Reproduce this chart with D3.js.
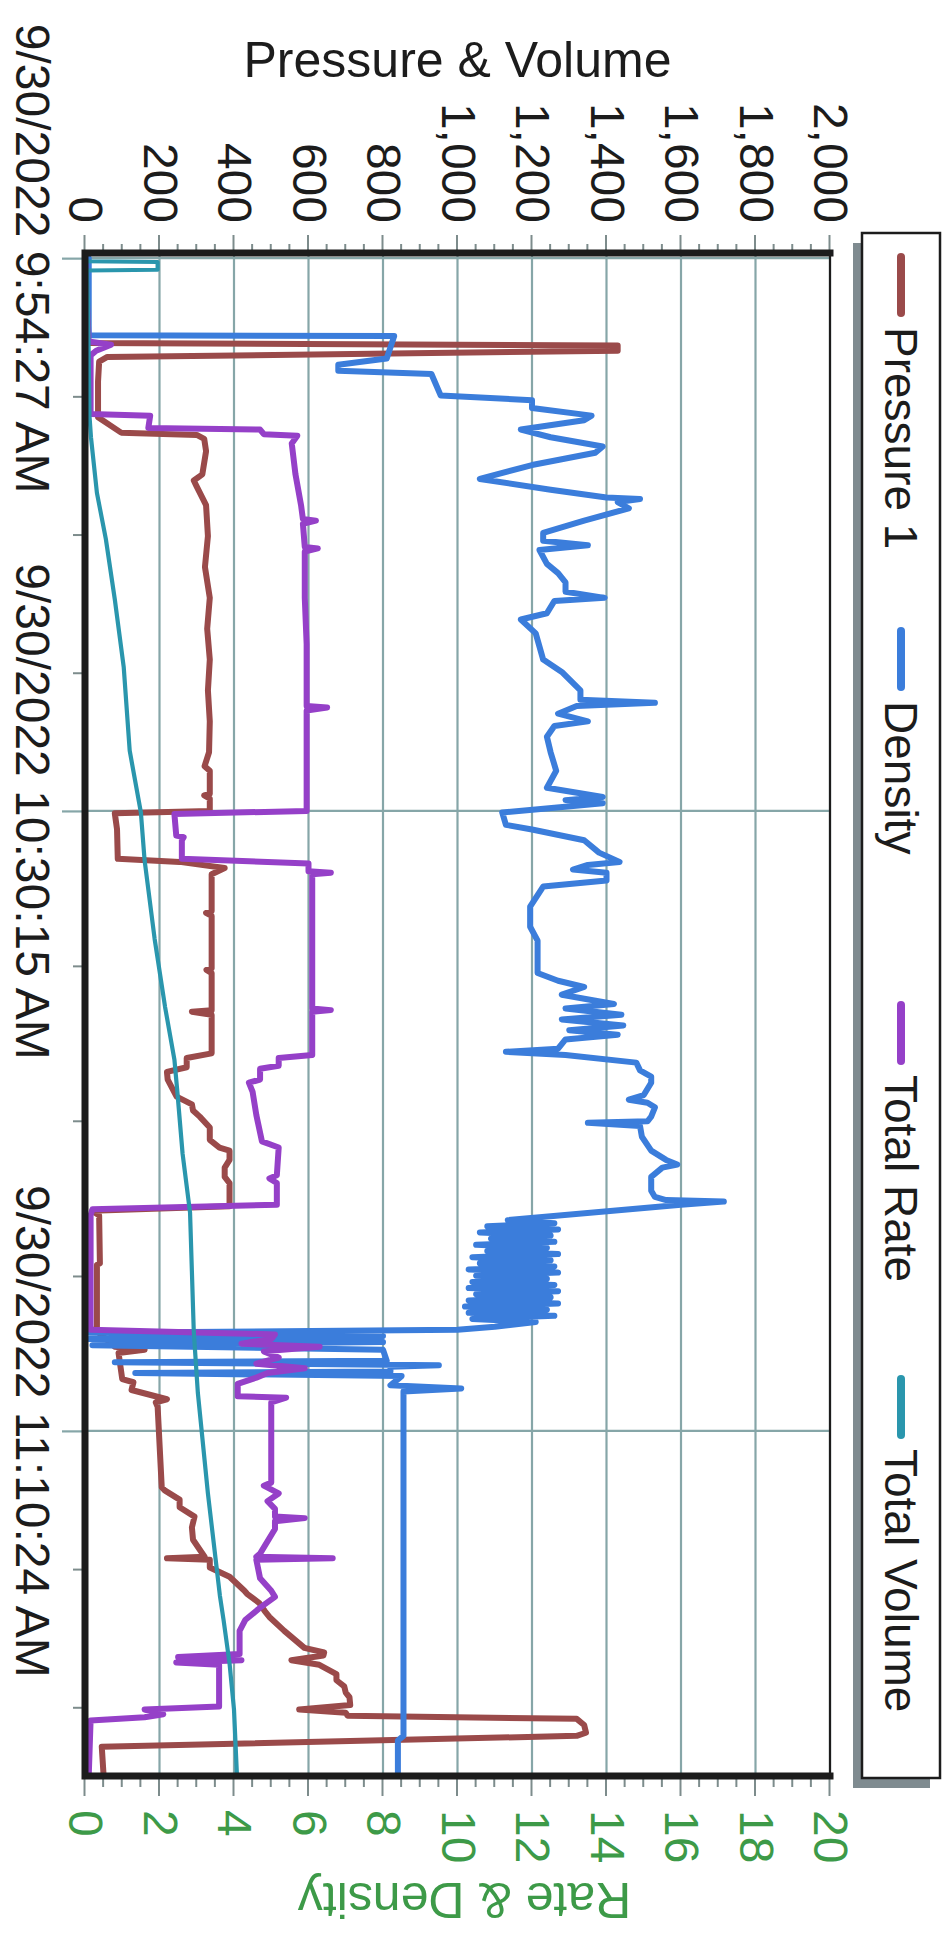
<!DOCTYPE html>
<html>
<head>
<meta charset="utf-8">
<script src="https://cdn.jsdelivr.net/npm/d3@7"></script>
<style>
  body { margin: 0; background: #fff; }
  svg { display: block; }
</style>
</head>
<body>
<svg id="chart"></svg>
<script>
// time is minutes after the first sample (9:54:27 AM)
const startClock = "09:54:27"
const majorClock = ["09:54:27", "10:30:15", "11:10:24"]
const minorClock = ["10:03:24", "10:12:21", "10:21:18", "10:40:17", "10:50:19", "11:00:22", "11:19:21", "11:28:18"]
const timeLabels = ["9/30/2022 9:54:27 AM", "9/30/2022 10:30:15 AM", "9/30/2022 11:10:24 AM"]
const leftTicks = [0, 200, 400, 600, 800, 1000, 1200, 1400, 1600, 1800, 2000]
const rightTicks = [0, 2, 4, 6, 8, 10, 12, 14, 16, 18, 20]
const legendNames = ["Pressure 1", "Density", "Total Rate", "Total Volume"]

// psi
const pressure = [
  [0, 5], [5.5, 5], [5.65, 1430], [6.0, 1430], [6.4, 60], [6.7, 38], [8.0, 35], [10.3, 35],
  [11.3, 97], [11.45, 300], [11.7, 320], [12.5, 325], [14.0, 315], [14.4, 292], [14.8, 300],
  [16.0, 325], [18.0, 330], [20.0, 322], [22.0, 335], [24.0, 328], [26.0, 335], [28.0, 330],
  [30.0, 335], [32.0, 333], [32.9, 321], [33.2, 335], [34.7, 335], [34.8, 320], [35.0, 335],
  [35.8, 335], [35.95, 80], [37.0, 86], [38.9, 88], [39.1, 254], [39.5, 375], [39.9, 340],
  [42.3, 340], [42.4, 325], [42.6, 340], [46.0, 340], [46.1, 326], [46.3, 340], [48.7, 340],
  [48.8, 287], [49.0, 340], [51.5, 340], [51.8, 273], [52.4, 273], [52.7, 220], [53.2, 222],
  [54.3, 246], [54.8, 287], [55.2, 290], [55.6, 308], [56.3, 335], [57.1, 335], [57.6, 361],
  [57.8, 388], [58.4, 388], [58.9, 375], [59.5, 375], [59.9, 388], [61.4, 388], [61.7, 20],
  [62.0, 38], [65.1, 40], [65.2, 32], [69.2, 32], [69.4, 28], [70.5, 80], [70.7, 160],
  [70.9, 90], [72.6, 100], [72.8, 130], [73.3, 125], [73.9, 220], [74.1, 190], [74.4, 195],
  [79.6, 206], [79.8, 214], [80.4, 254], [80.9, 254], [81.5, 294], [82.2, 287], [83.0, 290],
  [84.1, 321], [84.2, 220], [84.3, 335], [84.8, 335], [85.4, 388], [86.3, 428], [86.5, 435],
  [87.1, 468], [87.6, 482], [88.0, 495], [88.9, 535], [90.0, 589], [90.3, 642], [90.5, 640],
  [90.8, 554], [91.1, 629], [91.7, 675], [92.1, 675], [92.5, 696], [92.9, 700], [93.2, 710],
  [93.7, 712], [94.0, 575], [94.2, 700], [94.4, 705], [94.6, 1320], [95.0, 1340], [95.5, 1345],
  [95.7, 1320], [96.4, 45], [98.3, 50]
]

// ppg
const density = [
  [0, 0.1], [5.0, 0.1], [5.05, 8.3], [6.5, 8.1], [6.9, 6.8], [7.3, 6.8], [7.5, 9.3], [8.9, 9.55],
  [9.2, 12.0], [9.7, 12.0], [10.2, 13.6], [10.5, 13.4], [11.1, 11.7], [11.6, 12.5], [12.2, 13.9],
  [12.6, 13.7], [13.4, 12.0], [14.3, 10.6], [15.0, 12.5], [15.5, 14.0], [15.6, 14.9], [15.8, 14.3],
  [16.2, 14.6], [17.0, 13.4], [17.8, 12.3], [18.3, 12.3], [18.6, 13.5], [18.9, 12.2], [19.8, 12.4],
  [20.4, 12.7], [21.0, 12.9], [21.6, 12.9], [22.0, 13.95], [22.2, 12.6], [23.0, 12.4], [23.4, 11.7],
  [24.3, 12.1], [26.0, 12.3], [26.8, 12.8], [28.0, 13.3], [28.6, 13.3], [28.8, 15.3], [29.0, 13.2],
  [29.5, 12.7], [30.0, 13.5], [30.3, 12.6], [31.0, 12.4], [32.0, 12.5], [33.2, 12.65], [34.3, 12.4],
  [34.9, 13.9], [35.1, 12.9], [35.3, 13.9], [35.6, 12.6], [35.9, 11.2], [36.7, 11.3], [37.0, 12.0],
  [37.7, 13.4], [38.5, 13.8], [39.1, 14.35], [39.3, 13.5], [39.6, 13.1], [39.8, 14.0], [40.3, 14.0],
  [40.7, 12.3], [42.0, 11.95], [43.3, 11.95], [44.2, 12.15], [46.3, 12.15], [46.8, 12.7], [47.2, 13.4],
  [47.7, 12.8], [48.3, 14.2], [48.6, 12.9], [49.0, 14.4], [49.3, 12.8], [49.7, 14.45], [50.0, 13.0],
  [50.3, 14.3], [50.6, 12.9], [51.2, 12.7], [51.4, 11.3], [51.6, 12.9], [52.1, 14.8], [52.6, 14.9],
  [53.0, 15.2], [53.4, 15.2], [54.2, 15.0], [54.5, 14.6], [54.7, 15.1], [55.0, 15.3], [55.6, 15.2],
  [55.9, 15.1], [56.0, 13.5], [56.2, 14.9], [56.9, 14.95], [57.8, 15.2], [58.4, 15.6], [58.7, 15.9],
  [58.9, 15.5], [59.5, 15.2], [60.4, 15.2], [60.8, 15.3], [61.0, 15.6], [61.1, 17.15], [61.3, 16.0],
  [62.3, 11.35], [62.5, 12.6], [62.7, 10.8], [62.9, 12.7], [63.1, 10.6], [63.3, 12.5], [63.5, 10.9],
  [63.7, 12.6], [63.9, 10.5], [64.1, 12.4], [64.3, 10.8], [64.5, 12.7], [64.7, 10.4], [64.9, 12.5],
  [65.1, 10.6], [65.3, 12.6], [65.5, 10.3], [65.7, 12.7], [65.9, 10.5], [66.1, 12.4], [66.3, 10.4],
  [66.5, 12.6], [66.7, 10.3], [66.9, 12.7], [67.1, 10.5], [67.3, 12.5], [67.5, 10.3], [67.7, 12.7],
  [67.9, 10.2], [68.1, 12.4], [68.3, 10.3], [68.5, 12.6], [68.7, 10.4], [68.9, 12.1], [69.2, 11.0],
  [69.4, 10.0], [69.6, 0.1], [69.8, 8.0], [70.0, 0.1], [70.2, 8.0], [70.4, 0.2], [70.7, 8.0],
  [71.4, 8.1], [71.5, 0.8], [71.7, 9.5], [71.8, 8.2], [72.1, 8.2], [72.2, 1.35], [72.4, 8.5],
  [73.0, 8.2], [73.2, 10.1], [73.4, 8.55], [95.7, 8.55], [96.0, 8.4], [98.3, 8.4]
]

// bbl/min
const totalRate = [
  [0, 0], [5.4, 0.1], [5.6, 0.7], [6.0, 0.3], [6.3, 0.15], [10.1, 0.15], [10.2, 1.75], [11.0, 1.7],
  [11.1, 4.7], [11.4, 4.8], [11.5, 5.7], [12.0, 5.55], [14.0, 5.65], [16.0, 5.8], [16.9, 5.85],
  [17.0, 6.2], [17.2, 5.85], [18.7, 5.9], [18.8, 6.25], [19.0, 5.9], [22.0, 5.9], [25.0, 5.95],
  [29.0, 5.95], [29.1, 6.5], [29.3, 5.95], [32.0, 5.95], [35.8, 5.95], [36.0, 2.4], [37.4, 2.45],
  [37.5, 2.65], [37.7, 2.6], [38.9, 2.6], [39.2, 6.0], [39.7, 6.0], [39.8, 6.6], [39.9, 6.1],
  [48.6, 6.1], [48.7, 6.6], [48.8, 6.1], [51.6, 6.1], [51.8, 5.2], [52.3, 5.2], [52.5, 4.7],
  [53.2, 4.7], [53.4, 4.4], [54.0, 4.5], [55.5, 4.6], [57.2, 4.75], [57.6, 5.2], [59.4, 5.15],
  [59.6, 4.95], [59.9, 5.15], [61.3, 5.15], [61.6, 0.2], [62.0, 0.15], [69.4, 0.15], [69.7, 5.1],
  [70.0, 5.0], [70.3, 4.2], [70.5, 6.3], [70.8, 4.8], [71.2, 5.2], [71.6, 4.6], [71.9, 5.9],
  [72.2, 4.9], [72.5, 4.6], [72.9, 4.1], [73.7, 4.1], [73.8, 5.4], [74.1, 5.0], [79.3, 5.0],
  [79.5, 4.8], [80.0, 5.2], [80.5, 4.9], [81.0, 5.1], [81.5, 5.1], [81.6, 5.9], [81.8, 5.1],
  [82.3, 5.1], [83.9, 4.7], [84.1, 4.6], [84.2, 6.65], [84.3, 4.6], [85.5, 4.7], [86.3, 5.0],
  [86.7, 5.1], [87.4, 4.7], [88.2, 4.3], [88.9, 4.15], [90.4, 4.15], [90.6, 2.5], [90.8, 4.2],
  [90.95, 2.45], [91.1, 3.6], [93.8, 3.6], [94.0, 1.6], [94.3, 2.1], [94.5, 1.6], [94.7, 0.15],
  [98.3, 0.1]
]

// bbl
const totalVolume = [
  [0, 0], [0.2, 0], [0.25, 195], [0.75, 195], [0.8, 5], [2.7, 8], [10.2, 12], [11.6, 16],
  [15.2, 32], [18.2, 56], [22.1, 80], [26.5, 104], [31.9, 120], [35.9, 150], [39.0, 160],
  [44.1, 187], [48.5, 215], [51.9, 240], [54.0, 248], [58.0, 262], [61.8, 282], [69.5, 292],
  [73.5, 303], [80.0, 330], [86.6, 362], [88.2, 372], [91.0, 388], [94.0, 400], [98.3, 408]
]

// the chart is laid out the normal way round, then turned a quarter clockwise
const W = 1934, H = 948
const plot = {left: 253, right: 1776, top: 118, bottom: 863}
const font = "'Liberation Sans', Arial, sans-serif"
const ink = "#1c1c1c"
const green = "#3d9a48"
const gridColor = "#86a6a8"
const tickColor = "#7d8c8c"

const parseTime = d3.timeParse("%H:%M:%S")
const t0 = parseTime(startClock)
const at = m => new Date(+t0 + m * 60000)

const x = d3.scaleTime()
    .domain([d3.timeSecond.offset(t0, -20), d3.timeSecond.offset(t0, 5898)])
    .range([plot.left, plot.right])

const yLeft = d3.scaleLinear()
    .domain([0, 2000])
    .range([plot.bottom, plot.top])

const yRight = d3.scaleLinear()
    .domain([0, 20])
    .range([plot.bottom, plot.top])

const svg = d3.select("#chart")
    .attr("width", H)
    .attr("height", W)

const g = svg.append("g")
    .attr("transform", `translate(${H},0) rotate(90)`)

// grid
g.append("g")
    .attr("stroke", gridColor)
    .attr("stroke-width", 2.2)
    .selectAll("line")
    .data(leftTicks.slice(1))
    .join("line")
    .attr("x1", plot.left)
    .attr("x2", plot.right)
    .attr("y1", d => yLeft(d))
    .attr("y2", d => yLeft(d))

g.append("g")
    .attr("stroke", gridColor)
    .attr("stroke-width", 2.2)
    .selectAll("line")
    .data(majorClock.map(parseTime))
    .join("line")
    .attr("x1", d => x(d))
    .attr("x2", d => x(d))
    .attr("y1", plot.top)
    .attr("y2", plot.bottom)

const styleTicks = a => a
    .call(a => a.select(".domain").remove())
    .call(a => a.selectAll(".tick line").attr("stroke", tickColor).attr("stroke-width", 2))

// left axis: Pressure & Volume
g.append("g")
    .attr("transform", `translate(${plot.left},0)`)
    .call(d3.axisLeft(yLeft).tickValues(d3.range(50, 2000, 50).filter(v => v % 200)).tickSize(9).tickFormat(""))
    .call(styleTicks)

g.append("g")
    .attr("transform", `translate(${plot.left},0)`)
    .call(d3.axisLeft(yLeft).tickValues(leftTicks).tickFormat(d3.format(",")).tickSize(18).tickPadding(12))
    .call(styleTicks)
    .attr("font-size", 48)
    .attr("font-family", font)
    .call(a => a.selectAll("text").attr("fill", ink))

// right axis: Rate & Density
g.append("g")
    .attr("transform", `translate(${plot.right},0)`)
    .call(d3.axisRight(yRight).tickValues(d3.range(0.5, 20, 0.5).filter(v => v % 2)).tickSize(11).tickFormat(""))
    .call(styleTicks)

g.append("g")
    .attr("transform", `translate(${plot.right},0)`)
    .call(d3.axisRight(yRight).tickValues(rightTicks).tickSize(20).tickPadding(14))
    .call(styleTicks)
    .attr("font-size", 48)
    .attr("font-family", font)
    .call(a => a.selectAll("text").attr("fill", green))

// time axis
g.append("g")
    .attr("transform", `translate(0,${plot.bottom})`)
    .call(d3.axisBottom(x).tickValues(minorClock.map(parseTime)).tickSize(12).tickFormat(""))
    .call(styleTicks)

g.append("g")
    .attr("transform", `translate(0,${plot.bottom})`)
    .call(d3.axisBottom(x).tickValues(majorClock.map(parseTime)).tickFormat((d, i) => timeLabels[i]).tickSize(23).tickPadding(12))
    .call(styleTicks)
    .call(a => a.selectAll(".tick line").attr("stroke", gridColor).attr("stroke-width", 2.2))
    .attr("font-size", 48)
    .attr("font-family", font)
    .call(a => a.selectAll("text").attr("fill", ink))

// series
const series = [
    {name: legendNames[0], data: pressure, y: yLeft, color: "#9a4a4a", width: 6},
    {name: legendNames[1], data: density, y: yRight, color: "#3b7ddb", width: 6},
    {name: legendNames[2], data: totalRate, y: yRight, color: "#9540c8", width: 6},
    {name: legendNames[3], data: totalVolume, y: yLeft, color: "#2a96ad", width: 4.2}
]

g.append("g")
    .attr("fill", "none")
    .attr("stroke-linejoin", "round")
    .attr("stroke-linecap", "round")
    .selectAll("path")
    .data(series)
    .join("path")
    .attr("stroke", d => d.color)
    .attr("stroke-width", d => d.width)
    .attr("d", d => d3.line().x(p => x(at(p[0]))).y(p => d.y(p[1]))(d.data))

// frame
g.append("line")
    .attr("x1", plot.left).attr("x2", plot.right)
    .attr("y1", plot.top).attr("y2", plot.top)
    .attr("stroke", ink).attr("stroke-width", 2.2)

g.append("path")
    .attr("d", `M${plot.left},${plot.top}V${plot.bottom}H${plot.right}V${plot.top}`)
    .attr("fill", "none")
    .attr("stroke", ink)
    .attr("stroke-width", 7)
    .attr("stroke-linecap", "square")

// axis titles
g.append("text")
    .attr("transform", `translate(77,${(plot.top + plot.bottom) / 2}) rotate(-90)`)
    .attr("text-anchor", "middle")
    .attr("font-family", font)
    .attr("font-size", 50)
    .attr("fill", ink)
    .text("Pressure & Volume")

g.append("text")
    .attr("transform", `translate(1883,${(plot.top + plot.bottom) / 2 - 7}) rotate(90)`)
    .attr("text-anchor", "middle")
    .attr("font-family", font)
    .attr("font-size", 50)
    .attr("fill", green)
    .text("Rate & Density")

// legend
const legend = g.append("g")

legend.append("rect")
    .attr("x", 243).attr("y", 18)
    .attr("width", 1545).attr("height", 77)
    .attr("fill", "#7f8b90")

legend.append("rect")
    .attr("x", 233).attr("y", 8)
    .attr("width", 1545).attr("height", 78)
    .attr("fill", "#fff")
    .attr("stroke", ink)
    .attr("stroke-width", 2.5)

const entry = legend.selectAll("g.entry")
    .data(series)
    .join("g")
    .attr("class", "entry")
    .attr("transform", (d, i) => `translate(${253 + i * 374},47)`)

entry.append("line")
    .attr("x1", 4).attr("x2", 60)
    .attr("stroke", d => d.color)
    .attr("stroke-width", 8)
    .attr("stroke-linecap", "round")

entry.append("text")
    .attr("x", 74)
    .attr("dy", "0.35em")
    .attr("font-family", font)
    .attr("font-size", 46)
    .attr("fill", ink)
    .text(d => d.name)
</script>
</body>
</html>
